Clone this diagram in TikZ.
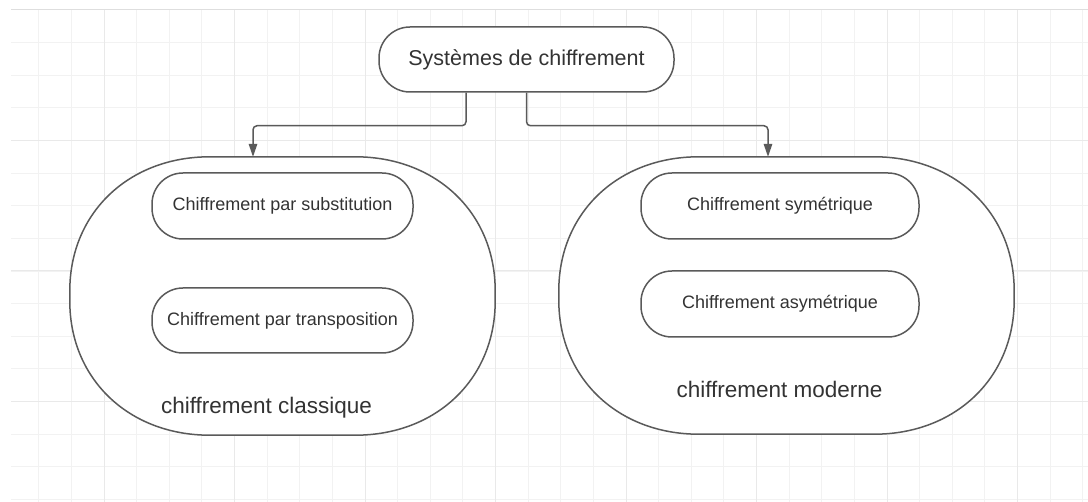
\documentclass[tikz,border=0pt]{standalone}
\usepackage{fontspec}
\setmainfont{Liberation Sans}
\usetikzlibrary{arrows.meta,calc}
\definecolor{ink}{HTML}{5A5A5A}
\definecolor{txt}{HTML}{333333}
\definecolor{gridminor}{HTML}{F2F2F2}
\definecolor{gridmajor}{HTML}{E9E9E9}
\definecolor{gridedge}{HTML}{DEDEDE}
% outline of a group box: flat top and bottom, soft elliptic-like corners
\newcommand{\grouppath}[3]{%
  \draw[groupline] ($(#1.north west)+(#2,0)$) -- ($(#1.north east)+(-#2,0)$)
    .. controls ($(#1.north east)+(-0.42*#2,0)$) and ($(#1.north east)+(0,0.42*#3)$) .. ($(#1.north east)+(0,#3)$)
    -- ($(#1.south east)+(0,-#3)$)
    .. controls ($(#1.south east)+(0,-0.42*#3)$) and ($(#1.south east)+(-0.42*#2,0)$) .. ($(#1.south east)+(-#2,0)$)
    -- ($(#1.south west)+(#2,0)$)
    .. controls ($(#1.south west)+(0.42*#2,0)$) and ($(#1.south west)+(0,-0.42*#3)$) .. ($(#1.south west)+(0,-#3)$)
    -- ($(#1.north west)+(0,#3)$)
    .. controls ($(#1.north west)+(0,0.42*#3)$) and ($(#1.north west)+(0.42*#2,0)$) .. cycle;}
\begin{document}
\begin{tikzpicture}[x=1pt,y=-1pt,
  pill/.style={draw=ink, line width=1.5pt, fill=white, rounded corners=31pt,
    text=txt, inner sep=0pt, minimum height=66pt},
  group/.style={inner sep=0pt},
  groupline/.style={draw=ink, line width=1.5pt, fill=white},
  grouplabel/.style={text=txt, inner sep=0pt, anchor=base,
    font=\fontsize{22.5}{26}\selectfont},
  itemfont/.style={font=\fontsize{18}{22}\selectfont},
  conn/.style={draw=ink, line width=1.5pt, rounded corners=4pt,
    -{Triangle[length=13pt,width=8.5pt]}}]
\useasboundingbox (0,0) rectangle (1088,502);
\fill[white] (0,0) rectangle (1088,502);

% background grid
\foreach \i in {0,...,32} {
  \pgfmathsetmacro{\gx}{38.75+32.625*\i}
  \draw[gridminor, line width=0.9pt] (\gx,10) -- (\gx,502);
}
\foreach \i in {1,...,15} {
  \pgfmathsetmacro{\gy}{10+32.625*\i}
  \draw[gridminor, line width=0.9pt] (11,\gy) -- (1088,\gy);
}
\foreach \i in {0,...,7} {
  \pgfmathsetmacro{\gx}{104+130.5*\i}
  \draw[gridmajor, line width=1pt] (\gx,10) -- (\gx,502);
}
\foreach \i in {1,...,3} {
  \pgfmathsetmacro{\gy}{10+130.5*\i}
  \draw[gridmajor, line width=1pt] (11,\gy) -- (1088,\gy);
}
\draw[gridedge, line width=1pt] (11,10) -- (1088,10);

% root
\node[pill, minimum width=295pt, minimum height=65pt,
  font=\fontsize{21.5}{25}\selectfont] (root) at (526.5,59.5) {Systèmes de chiffrement};

% groups
\node[group, minimum width=425pt, minimum height=278pt] (classic) at (282.5,296) {};
\grouppath{classic}{140}{134}
\node[group, minimum width=455pt, minimum height=277pt] (modern) at (786.5,295.5) {};
\grouppath{modern}{140}{134}

% items of the classic group
\node[pill, itemfont, minimum width=261pt] (subst) at (282.5,206) {Chiffrement par substitution};
\node[pill, itemfont, minimum width=261pt, minimum height=65pt] (transp) at (282.5,320.5) {Chiffrement par transposition};
\node[grouplabel] (classiclabel) at (266.5,414) {chiffrement classique};

% items of the modern group
\node[pill, itemfont, minimum width=278pt] (sym) at (780,206) {Chiffrement symétrique};
\node[pill, itemfont, minimum width=278pt] (asym) at (780,304) {Chiffrement asymétrique};
\node[grouplabel] (modernlabel) at (779.5,398) {chiffrement moderne};

% connectors
\draw[conn] ([xshift=-60.5pt]root.south) -- ++(0,33) -| ([xshift=-29.5pt]classic.north);
\draw[conn] (root.south) -- ++(0,33) -| ([xshift=-18.5pt]modern.north);
\end{tikzpicture}
\end{document}
